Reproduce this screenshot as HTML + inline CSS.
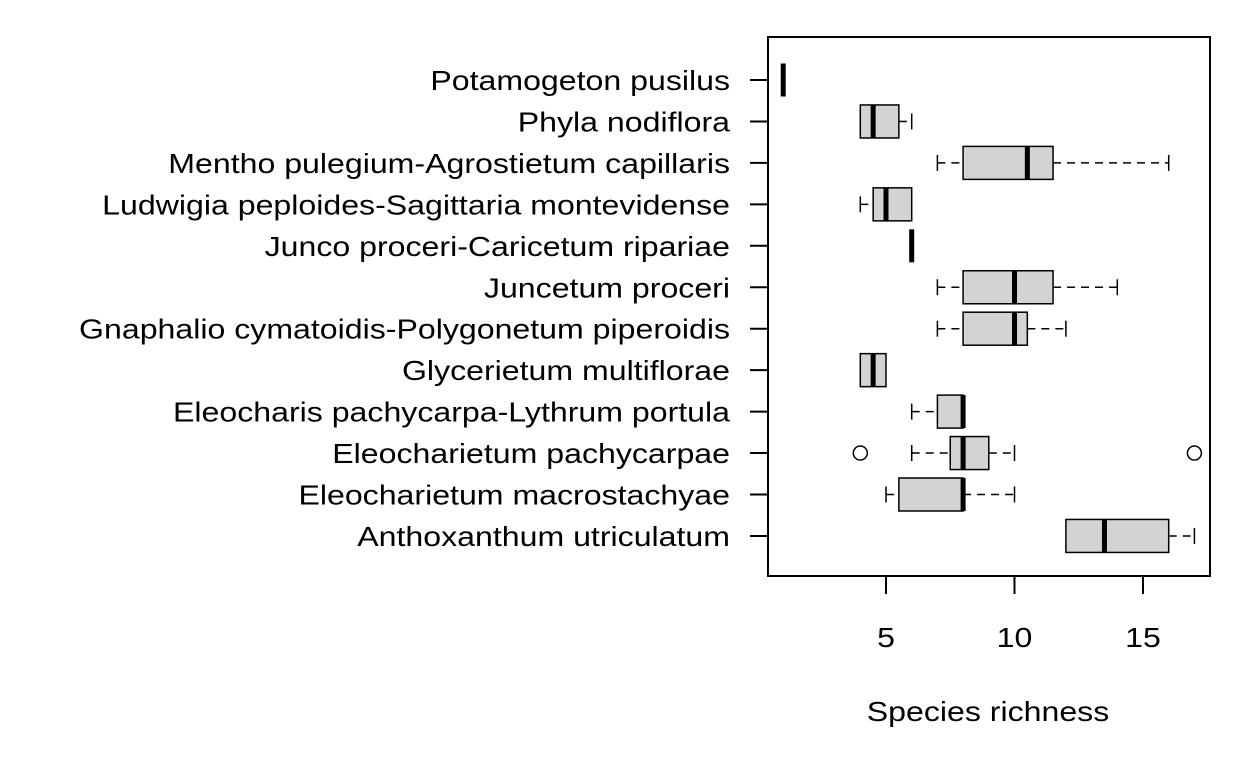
<!DOCTYPE html>
<html><head><meta charset="utf-8"><style>
body{margin:0;background:#fff;}
svg text{font-family:"Liberation Sans",sans-serif;font-size:28px;fill:#000;}
</style></head><body>
<svg id="chart" width="1248" height="768" viewBox="0 0 1248 768" xmlns="http://www.w3.org/2000/svg">
<rect x="768" y="37" width="442" height="539" fill="none" stroke="#000" stroke-width="2"/>
<g id="marks"></g>
<text transform="translate(988,721) scale(1.146,1)" text-anchor="middle">Species richness</text>
</svg>
<script>
const categories=["Potamogeton pusilus","Phyla nodiflora","Mentho pulegium-Agrostietum capillaris","Ludwigia peploides-Sagittaria montevidense","Junco proceri-Caricetum ripariae","Juncetum proceri","Gnaphalio cymatoidis-Polygonetum piperoidis","Glycerietum multiflorae","Eleocharis pachycarpa-Lythrum portula","Eleocharietum pachycarpae","Eleocharietum macrostachyae","Anthoxanthum utriculatum"];
const mins=[1,4,7,4,6,7,7,4,6,6,5,12];
const q1s=[1,4,8,4.5,6,8,8,4,7,7.5,5.5,12];
const medians=[1,4.5,10.5,5,6,10,10,4.5,8,8,8,13.5];
const q3s=[1,5.5,11.5,6,6,11.5,10.5,5,8,9,8,16];
const maxs=[1,6,16,6,6,14,12,5,8,10,10,17];
const outliers=[[],[],[],[],[],[],[],[],[],[4,17],[],[]];
const xTicks=[5,10,15];
const NS="http://www.w3.org/2000/svg";
const g=document.getElementById('marks');
function xs(v){return 886+(v-5)*25.7;}
function ys(i){return 80+i*41.45;}
function mk(tag,a,parent){const e=document.createElementNS(NS,tag);for(const k in a)e.setAttribute(k,a[k]);(parent||g).appendChild(e);return e;}
categories.forEach((c,i)=>{
  const y=ys(i);
  const grp=mk('g',{});
  
  
  const lab=mk('text',{transform:'translate(730,'+(y+10)+') scale(1.146,1)','text-anchor':'end'});
  
  
  lab.textContent=c;
  const tk=mk('line',{x1:750,x2:768,y1:y,y2:y,stroke:'#000','stroke-width':2});
  
  
  const dash={stroke:'#000','stroke-width':1.5,'stroke-dasharray':'8,6'};
  if(mins[i]<q1s[i]) mk('line',Object.assign({x1:xs(mins[i]),x2:xs(q1s[i]),y1:y,y2:y},dash),grp);
  if(maxs[i]>q3s[i]) mk('line',Object.assign({x1:xs(q3s[i]),x2:xs(maxs[i]),y1:y,y2:y},dash),grp);
  if(mins[i]<q1s[i]) mk('line',{x1:xs(mins[i]),x2:xs(mins[i]),y1:y-8,y2:y+8,stroke:'#000','stroke-width':1.5},grp);
  if(maxs[i]>q3s[i]) mk('line',{x1:xs(maxs[i]),x2:xs(maxs[i]),y1:y-8,y2:y+8,stroke:'#000','stroke-width':1.5},grp);
  if(q3s[i]>q1s[i]) mk('rect',{x:xs(q1s[i]),y:y-16.5,width:xs(q3s[i])-xs(q1s[i]),height:33,fill:'#d3d3d3',stroke:'#000','stroke-width':1.5},grp);
  mk('line',{x1:xs(medians[i]),x2:xs(medians[i]),y1:y-16.5,y2:y+16.5,stroke:'#000','stroke-width':5},grp);
  outliers[i].forEach(o=>{
    const p=mk('circle',{cx:xs(o),cy:y,r:7,fill:'none',stroke:'#000','stroke-width':1.5});
    
    
  });
});
xTicks.forEach(t=>{
  const l=mk('line',{x1:xs(t),x2:xs(t),y1:576,y2:594,stroke:'#000','stroke-width':2});
  
  
  const tx=mk('text',{transform:'translate('+xs(t)+',647) scale(1.146,1)','text-anchor':'middle'});
  
  
  tx.textContent=t;
});
mk('line',{x1:xs(5),x2:xs(15),y1:576,y2:576,stroke:'#000','stroke-width':2});
</script>
</body></html>
